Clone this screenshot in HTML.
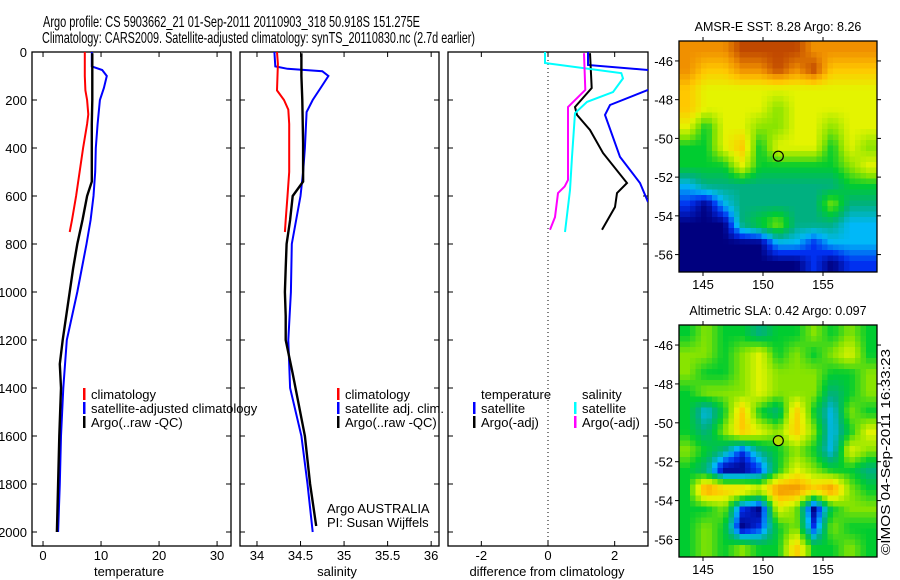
<!DOCTYPE html>
<html><head><meta charset="utf-8"><style>
html,body{margin:0;padding:0;background:#fff;}
svg{display:block;font-family:"Liberation Sans",sans-serif;}
</style></head><body>
<svg id="fig" width="900" height="580" viewBox="0 0 900 580">
<defs>
<clipPath id="c1"><rect x="32" y="52" width="199" height="494"/></clipPath>
<clipPath id="c2"><rect x="240" y="52" width="199" height="494"/></clipPath>
<clipPath id="c3"><rect x="448" y="52" width="200" height="494"/></clipPath>
<clipPath id="cm1"><rect x="679" y="41" width="198" height="231"/></clipPath>
<clipPath id="cm2"><rect x="679" y="325" width="198" height="232"/></clipPath>
</defs>
<text x="43" y="27" font-size="16" textLength="377" lengthAdjust="spacingAndGlyphs">Argo profile: CS 5903662_21 01-Sep-2011 20110903_318 50.918S 151.275E</text>
<text x="42" y="43" font-size="16" textLength="433" lengthAdjust="spacingAndGlyphs">Climatology: CARS2009. Satellite-adjusted climatology: synTS_20110830.nc (2.7d earlier)</text>
<g id="plots"></g>
<g id="maps"></g>
<text transform="translate(890,555) rotate(-90)" font-size="13" textLength="206" lengthAdjust="spacingAndGlyphs">©IMOS 04-Sep-2011 16:33:23</text>
</svg>
<script>
// ---- profile data (depth in m) ----
const tClimDepth = [0,50,100,160,200,260,300,400,500,600,700,750];
const tClimVal   = [7.2,7.2,7.2,7.3,7.6,7.8,7.6,6.9,6.3,5.7,5.0,4.6];
const tArgoDepth = [5,100,200,300,400,540,600,700,800,900,1000,1100,1200,1300,1400,1600,1800,2000];
const tArgoVal   = [8.5,8.5,8.5,8.4,8.4,8.4,7.6,6.8,5.9,5.2,4.6,4.0,3.4,2.9,3.1,2.8,2.6,2.4];
const tSatDepth  = [0,60,75,100,150,200,300,400,500,600,700,800,900,1000,1200,1400,1600,1800,2000];
const tSatVal    = [8.4,8.4,10.2,11.0,10.5,9.8,9.4,9.1,9.0,8.7,8.2,7.5,6.7,5.9,4.1,3.5,3.1,2.9,2.6];
const sClimDepth = [0,50,160,200,240,300,500,600,700,750];
const sClimVal   = [34.23,34.24,34.23,34.31,34.36,34.37,34.37,34.35,34.33,34.32];
const sArgoDepth = [5,100,200,380,540,600,700,800,900,1000,1100,1200,1340,1600,1800,1975];
const sArgoVal   = [34.51,34.51,34.52,34.53,34.53,34.41,34.38,34.34,34.33,34.32,34.33,34.33,34.41,34.55,34.61,34.68];
const sSatDepth  = [0,60,70,80,100,150,200,250,400,500,600,800,1000,1200,1400,1600,1800,2000];
const sSatVal    = [34.20,34.21,34.35,34.75,34.82,34.73,34.64,34.57,34.55,34.53,34.50,34.40,34.39,34.36,34.38,34.51,34.58,34.64];
const dTSatDepth = [0,54,75,100,158,221,262,437,546,625];
const dTSatVal   = [1.2,1.2,3.0,3.8,3.0,1.86,1.71,2.16,2.76,3.0];
const dTArgoDepth= [5,150,229,262,325,421,546,588,646,741];
const dTArgoVal  = [1.26,1.31,0.81,0.87,1.26,1.65,2.37,2.07,2.01,1.62];
const dSSatDepth = [0,46,88,110,167,208,255,437,575,750];
const dSSatVal   = [-0.09,-0.09,2.2,2.25,1.95,1.17,0.81,0.72,0.66,0.51];
const dSArgoDepth= [5,158,229,533,560,588,688,741];
const dSArgoVal  = [1.08,1.12,0.6,0.6,0.5,0.3,0.21,0.06];
const depthTicks = [0,200,400,600,800,1000,1200,1400,1600,1800,2000];
const tTicks = [0,10,20,30];
const sTicks = [34,34.5,35,35.5,36];
const sTickLabels = ["34","34.5","35","35.5","36"];
const dTicks = [-2,0,2];
// ---- map data (rows top->bottom, level 0-9) ----
const sstRows = ["88899998888","87788989777","76666666666","76666566666","64665566566","44674666465","44464444456","23333333344","10233333533","00034533322","00000221222","00000001011"];
const slaRows = ["45443445454","55456454564","54456555445","45556555345","42474374254","43576575246","54313454265","43001465443","48776887854","44510650455","45401451544","45454474454"];
const levelColors = ["#00007f","#0030f0","#00b8f8","#00b080","#00cc30","#88e400","#e4f400","#ffc800","#f09000","#c04800"];

const NS="http://www.w3.org/2000/svg";
function mk(tag, attrs, parent){const e=document.createElementNS(NS,tag);for(const k in attrs)e.setAttribute(k,attrs[k]);parent.appendChild(e);return e;}
const plots=document.getElementById('plots');
const yOf = d => 52 + d*0.24;
const panels = [
 {x0:32,x1:231,dmin:-1.9,dmax:32.4,clip:'c1',name:'temperature-panel'},
 {x0:240,x1:439,dmin:33.805,dmax:36.09,clip:'c2',name:'salinity-panel'},
 {x0:448,x1:648,dmin:-3,dmax:3,clip:'c3',name:'difference-panel'}];
panels.forEach(p=>{p.x=v=>p.x0+(v-p.dmin)/(p.dmax-p.dmin)*(p.x1-p.x0);});
function axes(p, ticks, labels, title, cx){
  const g=mk('g',{},plots);
  
  
  const r=mk('rect',{x:p.x0,y:52,width:p.x1-p.x0,height:494,fill:'none',stroke:'#000','stroke-width':1.3},g);
  
  
  ticks.forEach((t,i)=>{
    const x=p.x(t);
    mk('line',{x1:x,x2:x,y1:546,y2:541,stroke:'#000'},g);
    mk('line',{x1:x,x2:x,y1:52,y2:57,stroke:'#000'},g);
    const tx=mk('text',{x:x,y:560,'font-size':13,'text-anchor':'middle'},g);
    tx.textContent=labels[i];
    
    
  });
  depthTicks.forEach(d=>{
    mk('line',{x1:p.x0,x2:p.x0+5,y1:yOf(d),y2:yOf(d),stroke:'#000'},g);
    mk('line',{x1:p.x1,x2:p.x1-5,y1:yOf(d),y2:yOf(d),stroke:'#000'},g);
  });
  const tt=mk('text',{x:cx,y:576,'font-size':13,'text-anchor':'middle'},g);
  tt.textContent=title;
  
  
}
axes(panels[0],tTicks,tTicks.map(String),'temperature',129);
axes(panels[1],sTicks,sTickLabels,'salinity',337);
axes(panels[2],dTicks,dTicks.map(String),'difference from climatology',547);
depthTicks.forEach(d=>{
  const t=mk('text',{x:27,y:yOf(d)+5,'font-size':13,'text-anchor':'end'},plots);
  t.textContent=String(d);
  
  
});
const dz=mk('line',{x1:panels[2].x(0),x2:panels[2].x(0),y1:52,y2:546,stroke:'#000','stroke-dasharray':'1 3'},plots);


function series(p, depths, vals, color, w, name){
  const pts=depths.map((d,i)=>p.x(vals[i]).toFixed(1)+','+yOf(d).toFixed(1)).join(' ');
  const l=mk('polyline',{points:pts,fill:'none',stroke:color,'stroke-width':w,'clip-path':'url(#'+p.clip+')'},plots);
  
  
}
series(panels[0],tSatDepth,tSatVal,'#0000ff',2,'temperature-satellite-line');
series(panels[0],tClimDepth,tClimVal,'#ff0000',2,'temperature-climatology-line');
series(panels[0],tArgoDepth,tArgoVal,'#000',2.4,'temperature-argo-line');
series(panels[1],sSatDepth,sSatVal,'#0000ff',2,'salinity-satellite-line');
series(panels[1],sClimDepth,sClimVal,'#ff0000',2,'salinity-climatology-line');
series(panels[1],sArgoDepth,sArgoVal,'#000',2.4,'salinity-argo-line');
series(panels[2],dTSatDepth,dTSatVal,'#0000ff',2,'diff-temperature-satellite-line');
series(panels[2],dTArgoDepth,dTArgoVal,'#000',2,'diff-temperature-argo-line');
series(panels[2],dSSatDepth,dSSatVal,'#00ffff',2,'diff-salinity-satellite-line');
series(panels[2],dSArgoDepth,dSArgoVal,'#ff00ff',2,'diff-salinity-argo-line');
function legend(x,y,color,label,name){
  const g=mk('g',{},plots);
  
  
  if(color) mk('rect',{x:x,y:y-10,width:2.5,height:12,fill:color},g);
  const t=mk('text',{x:x+8,y:y+1,'font-size':13},g);
  t.textContent=label;
}
legend(83,398,'#ff0000','climatology','legend-climatology');
legend(83,412,'#0000ff','satellite-adjusted climatology','legend-satellite');
legend(83,426,'#000','Argo(..raw -QC)','legend-argo');
legend(337,398,'#ff0000','climatology','legend-climatology-sal');
legend(337,412,'#0000ff','satellite adj. clim.','legend-satellite-sal');
legend(337,426,'#000','Argo(..raw -QC)','legend-argo-sal');
legend(473,398,null,'temperature','legend-temperature-header');
legend(473,412,'#0000ff','satellite','legend-temp-satellite');
legend(473,426,'#000','Argo(-adj)','legend-temp-argo');
legend(574,398,null,'salinity','legend-salinity-header');
legend(574,412,'#00ffff','satellite','legend-sal-satellite');
legend(574,426,'#ff00ff','Argo(-adj)','legend-sal-argo');
[['Argo AUSTRALIA',513],['PI: Susan Wijffels',527]].forEach(([s,y])=>{
  const t=mk('text',{x:327,y:y,'font-size':13},plots);
  t.textContent=s;
  
  
});
// ---- maps ----
const maps=document.getElementById('maps');
const latTicks=[-46,-48,-50,-52,-54,-56];
const lonTicks=[145,150,155];
function hex(c){return [parseInt(c.slice(1,3),16),parseInt(c.slice(3,5),16),parseInt(c.slice(5,7),16)];}
const rgbLevels=levelColors.map(hex);
function colorAt(v){
  v=Math.max(0,Math.min(9,v));const i=Math.min(8,Math.floor(v)),f=v-i;
  const a=rgbLevels[i],b=rgbLevels[i+1];
  return 'rgb('+a.map((x,k)=>Math.round(x+(b[k]-x)*f)).join(',')+')';
}
function drawMap(rows, top, bottom, clip, title, name, circleFill){
  const g=mk('g',{},maps);
  
  
  const x0=679,x1=877, lonMin=143, lonMax=159.5;
  const pxPerDeg=(bottom-top)/11.93;
  const latY=l=>top+(-44.97-l)*pxPerDeg;
  const lonX=l=>x0+(l-lonMin)/(lonMax-lonMin)*(x1-x0);
  const cg=mk('g',{'clip-path':'url(#'+clip+')'},g);
  const nr=rows.length, nc=rows[0].length, cw=(x1-x0)/nc, ch=(bottom-top)/nr;
  const val=(r,c)=>+rows[Math.max(0,Math.min(nr-1,r))][Math.max(0,Math.min(nc-1,c))];
  const sub=5.5;
  for(let py=top;py<bottom;py+=sub){for(let px=x0;px<x1;px+=sub){
    const fx=(px+sub/2-x0)/cw-0.5, fy=(py+sub/2-top)/ch-0.5;
    const c0=Math.floor(fx), r0=Math.floor(fy), tx=fx-c0, ty=fy-r0;
    const v=(val(r0,c0)*(1-tx)+val(r0,c0+1)*tx)*(1-ty)+(val(r0+1,c0)*(1-tx)+val(r0+1,c0+1)*tx)*ty;
    const cell=mk('rect',{x:px.toFixed(1),y:py.toFixed(1),width:sub+0.6,height:sub+0.6,fill:colorAt(v)},cg);
    
    
  }}
  mk('rect',{x:x0,y:top,width:x1-x0,height:bottom-top,fill:'none',stroke:'#000','stroke-width':1.3},g);
  latTicks.forEach(l=>{
    const y=latY(l);
    mk('line',{x1:x0-4,x2:x0,y1:y,y2:y,stroke:'#000'},g);
    mk('line',{x1:x1,x2:x1+4,y1:y,y2:y,stroke:'#000'},g);
    const t=mk('text',{x:x0-6,y:y+5,'font-size':13,'text-anchor':'end'},g);
    t.textContent=String(l);
    
    
  });
  lonTicks.forEach(l=>{
    const x=lonX(l);
    mk('line',{x1:x,x2:x,y1:bottom,y2:bottom+4,stroke:'#000'},g);
    mk('line',{x1:x,x2:x,y1:top-4,y2:top,stroke:'#000'},g);
    const t=mk('text',{x:x,y:bottom+17,'font-size':13,'text-anchor':'middle'},g);
    t.textContent=String(l);
    
    
  });
  const tt=mk('text',{x:(x0+x1)/2,y:top-10,'font-size':12.5,'text-anchor':'middle'},g);
  tt.textContent=title;
  
  
  const c=mk('circle',{cx:lonX(151.275),cy:latY(-50.918),r:5,fill:circleFill,stroke:'#000','stroke-width':1.2},g);
  
  
}
drawMap(sstRows,41,272,'cm1','AMSR-E SST: 8.28 Argo: 8.26','sst-map','none');
drawMap(slaRows,325,557,'cm2','Altimetric SLA: 0.42 Argo: 0.097','sla-map','#b0e000');
</script>
</body></html>
